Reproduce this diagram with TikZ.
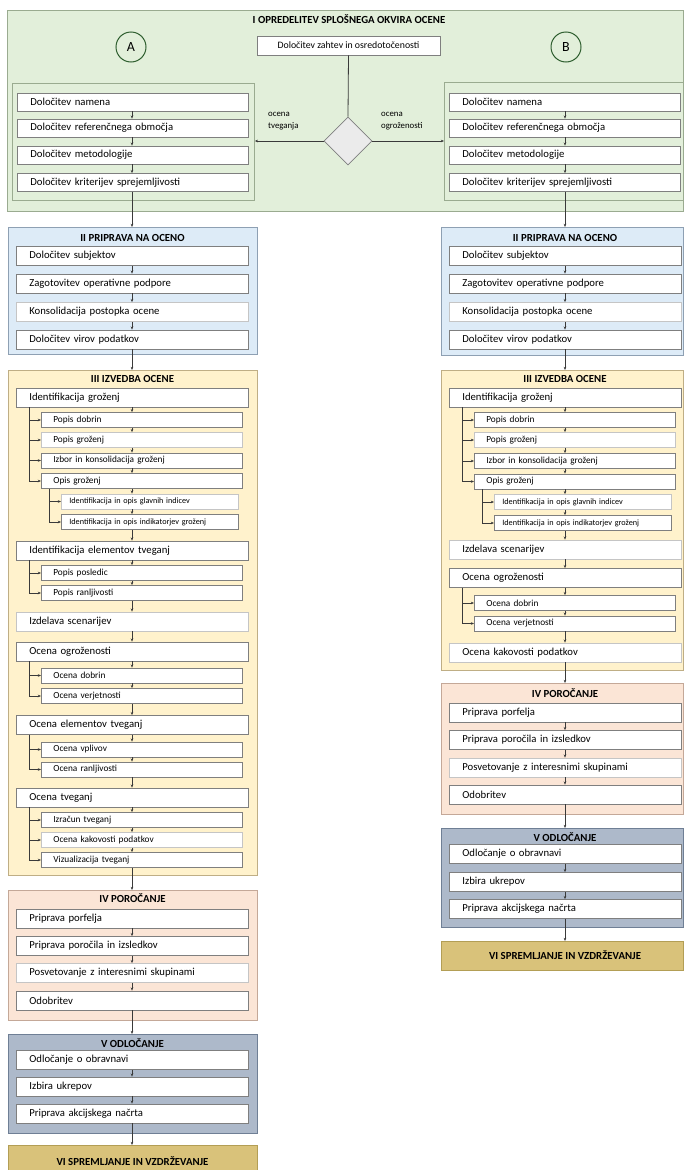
\documentclass[tikz,border=0pt]{standalone}
\usepackage{fontspec}
\setmainfont{Carlito}
\usetikzlibrary{shapes.geometric,arrows.meta,calc}

\definecolor{greenF}{HTML}{E2EFDA}
\definecolor{greenD}{HTML}{9AAB90}
\definecolor{circG}{HTML}{2E5E2E}
\definecolor{blueF}{HTML}{DDEBF7}
\definecolor{blueD}{HTML}{8EA0B3}
\definecolor{yelF}{HTML}{FFF2CC}
\definecolor{yelD}{HTML}{BFAE85}
\definecolor{orF}{HTML}{FBE5D6}
\definecolor{orD}{HTML}{C4A898}
\definecolor{slateF}{HTML}{ADB9CA}
\definecolor{slateD}{HTML}{6F7F95}
\definecolor{goldF}{HTML}{D9C27A}
\definecolor{goldD}{HTML}{B39E55}
\definecolor{boxline}{HTML}{7F7F7F}
\definecolor{lineC}{HTML}{3A3A3A}

\begin{document}
\begin{tikzpicture}[x=1pt,y=-1pt,
  mbox/.style={draw=boxline, fill=white, line width=0.7pt, anchor=west,
    minimum height=19pt, inner ysep=0pt, inner xsep=13pt, text width=206pt,
    align=left, font=\fontsize{10.7}{12}\selectfont},
  tgbox/.style={mbox, minimum height=18pt, text width=205pt},
  sbox/.style={mbox, minimum height=15pt, inner xsep=12pt, text width=177pt,
    font=\fontsize{9.3}{10}\selectfont},
  ssbox/.style={mbox, minimum height=15pt, inner xsep=8pt, text width=161pt,
    font=\fontsize{8.2}{9}\selectfont},
  faint/.style={draw=boxline!45},
  secbox/.style={anchor=north west, line width=0.8pt, inner sep=0pt},
  sectitle/.style={font=\bfseries\fontsize{10.8}{12}\selectfont, inner sep=0pt},
  flow/.style={draw=lineC, line width=0.6pt, -{Stealth[length=3.2pt,width=2.6pt]}},
  plain/.style={draw=lineC, line width=0.8pt},
  circ/.style={circle, draw=circG, line width=1pt, minimum size=30pt,
    inner sep=0pt, font=\fontsize{14}{16}\selectfont},
  note/.style={anchor=north west, align=left, inner sep=0pt,
    font=\fontsize{8.8}{12.5}\selectfont}
]
\useasboundingbox (0,0) rectangle (684,1170);

\coordinate (cL) at (132,0);
\coordinate (cR) at (565,0);

% ---------------- I: general framework ----------------
\node[secbox, fill=greenF, draw=greenD, minimum width=676pt, minimum height=201pt] (I) at (7,10) {};
\node[sectitle] (tI) at (349,19) {I OPREDELITEV SPLOŠNEGA OKVIRA OCENE};
\node[circ] (A) at (131,47) {A};
\node[circ] (B) at (566,47) {B};
\node[draw=boxline, fill=white, line width=0.7pt, minimum width=183pt, minimum height=19pt,
  inner sep=0pt, font=\fontsize{9.8}{11}\selectfont] (zahtev) at (348.5,45.5) {Določitev zahtev in osredotočenosti};
\node[diamond, draw=boxline, fill=gray!16, line width=0.7pt, minimum width=48pt,
  minimum height=48pt, inner sep=0pt] (dec) at (348,141) {};
\node[note] (nA) at (268,112) {ocena\\tveganja};
\node[note] (nB) at (381,112) {ocena\\ogroženosti};

\node[secbox, draw=greenD, minimum width=242pt, minimum height=117pt] (gA) at (12,83) {};
\node[secbox, draw=greenD, minimum width=239pt, minimum height=118pt] (gB) at (444,82) {};

\node[tgbox] (LaN) at (17,102) {Določitev namena};
\node[tgbox] (LaR) at (17,128) {Določitev referenčnega območja};
\node[tgbox] (LaM) at (17,155) {Določitev metodologije};
\node[tgbox] (LaK) at (17,182.5) {Določitev kriterijev sprejemljivosti};
\node[tgbox] (RaN) at (449,102) {Določitev namena};
\node[tgbox] (RaR) at (449,128) {Določitev referenčnega območja};
\node[tgbox] (RaM) at (449,155) {Določitev metodologije};
\node[tgbox] (RaK) at (449,182.5) {Določitev kriterijev sprejemljivosti};

% ---------------- section frames ----------------
\node[secbox, fill=blueF, draw=blueD, minimum width=249pt, minimum height=127pt] (IIL) at (8,227) {};
\node[secbox, fill=yelF, draw=yelD, minimum width=249pt, minimum height=505pt] (IIIL) at (8,370) {};
\node[secbox, fill=orF, draw=orD, minimum width=249pt, minimum height=130pt] (IVL) at (8,890) {};
\node[secbox, fill=slateF, draw=slateD, minimum width=249pt, minimum height=99pt] (VL) at (8,1034) {};
\node[secbox, fill=goldF, minimum width=249pt, minimum height=25pt] (VIL) at (8,1145) {};
\draw[goldD, line width=0.8pt] (VIL.south west) -- (VIL.north west) -- (VIL.north east) -- (VIL.south east);

\node[secbox, fill=blueF, draw=blueD, minimum width=242pt, minimum height=128pt] (IIR) at (441,227) {};
\node[secbox, fill=yelF, draw=yelD, minimum width=242pt, minimum height=300pt] (IIIR) at (441,370) {};
\node[secbox, fill=orF, draw=orD, minimum width=242pt, minimum height=131pt] (IVR) at (441,683) {};
\node[secbox, fill=slateF, draw=slateD, minimum width=242pt, minimum height=99pt] (VR) at (441,828) {};
\node[secbox, fill=goldF, draw=goldD, minimum width=242pt, minimum height=29pt] (VIR) at (441,941) {};

% ---------------- section titles ----------------
\node[sectitle] (tIIL) at (132.5,238) {II PRIPRAVA NA OCENO};
\node[sectitle] (tIIIL) at (132.5,379) {III IZVEDBA OCENE};
\node[sectitle] (tIVL) at (132.5,898) {IV POROČANJE};
\node[sectitle] (tVL) at (132.5,1043) {V ODLOČANJE};
\node[sectitle] (tVIL) at (132.5,1161) {VI SPREMLJANJE IN VZDRŽEVANJE};
\node[sectitle] (tIIR) at (565,238) {II PRIPRAVA NA OCENO};
\node[sectitle] (tIIIR) at (565,379) {III IZVEDBA OCENE};
\node[sectitle] (tIVR) at (565,693) {IV POROČANJE};
\node[sectitle] (tVR) at (565,837) {V ODLOČANJE};
\node[sectitle] (tVIR) at (565,955) {VI SPREMLJANJE IN VZDRŽEVANJE};

% ---------------- II (left) ----------------
\node[mbox] (Lb1) at (16,256) {Določitev subjektov};
\node[mbox] (Lb2) at (16,283.5) {Zagotovitev operativne podpore};
\node[mbox, faint] (Lb3) at (16,312) {Konsolidacija postopka ocene};
\node[mbox] (Lb4) at (16,339.5) {Določitev virov podatkov};
% ---------------- II (right) ----------------
\node[mbox] (Rb1) at (449,256) {Določitev subjektov};
\node[mbox] (Rb2) at (449,283.5) {Zagotovitev operativne podpore};
\node[mbox, faint] (Rb3) at (449,312) {Konsolidacija postopka ocene};
\node[mbox] (Rb4) at (449,339.5) {Določitev virov podatkov};

% ---------------- III (left) ----------------
\node[mbox] (Lg1) at (16,397.5) {Identifikacija groženj};
\node[sbox] (Lg1a) at (41,420) {Popis dobrin};
\node[sbox, faint] (Lg1b) at (41,440) {Popis groženj};
\node[sbox] (Lg1c) at (41,460.5) {Izbor in konsolidacija groženj};
\node[sbox] (Lg1d) at (41,481) {Opis groženj};
\node[ssbox, faint] (Lg1d1) at (61,501.5) {Identifikacija in opis glavnih indicev};
\node[ssbox] (Lg1d2) at (61,522) {Identifikacija in opis indikatorjev groženj};
\node[mbox] (Lg2) at (16,550.5) {Identifikacija elementov tveganj};
\node[sbox] (Lg2a) at (41,573) {Popis posledic};
\node[sbox] (Lg2b) at (41,593) {Popis ranljivosti};
\node[mbox, faint] (Lg3) at (16,621.5) {Izdelava scenarijev};
\node[mbox] (Lg4) at (16,651.5) {Ocena ogroženosti};
\node[sbox] (Lg4a) at (41,675.5) {Ocena dobrin};
\node[sbox] (Lg4b) at (41,696) {Ocena verjetnosti};
\node[mbox] (Lg5) at (16,725) {Ocena elementov tveganj};
\node[sbox] (Lg5a) at (41,749.5) {Ocena vplivov};
\node[sbox] (Lg5b) at (41,769.5) {Ocena ranljivosti};
\node[mbox] (Lg6) at (16,797.5) {Ocena tveganj};
\node[sbox] (Lg6a) at (41,820) {Izračun tveganj};
\node[sbox, faint] (Lg6b) at (41,840) {Ocena kakovosti podatkov};
\node[sbox] (Lg6c) at (41,860) {Vizualizacija tveganj};

% ---------------- III (right) ----------------
\node[mbox] (Rg1) at (449,397.5) {Identifikacija groženj};
\node[sbox] (Rg1a) at (474,420) {Popis dobrin};
\node[sbox, faint] (Rg1b) at (474,440) {Popis groženj};
\node[sbox] (Rg1c) at (474,461) {Izbor in konsolidacija groženj};
\node[sbox] (Rg1d) at (474,481.5) {Opis groženj};
\node[ssbox, faint] (Rg1d1) at (494,502) {Identifikacija in opis glavnih indicev};
\node[ssbox] (Rg1d2) at (494,523) {Identifikacija in opis indikatorjev groženj};
\node[mbox, faint] (Rg3) at (449,549.5) {Izdelava scenarijev};
\node[mbox] (Rg4) at (449,578) {Ocena ogroženosti};
\node[sbox] (Rg4a) at (474,603) {Ocena dobrin};
\node[sbox] (Rg4b) at (474,623.5) {Ocena verjetnosti};
\node[mbox, faint] (Rg7) at (449,652.5) {Ocena kakovosti podatkov};

% ---------------- IV ----------------
\node[mbox] (Ld1) at (16,918.5) {Priprava porfelja};
\node[mbox] (Ld2) at (16,946) {Priprava poročila in izsledkov};
\node[mbox, faint] (Ld3) at (16,973) {Posvetovanje z interesnimi skupinami};
\node[mbox] (Ld4) at (16,1000.5) {Odobritev};
\node[mbox] (Rd1) at (449,712.5) {Priprava porfelja};
\node[mbox] (Rd2) at (449,740) {Priprava poročila in izsledkov};
\node[mbox, faint] (Rd3) at (449,767.5) {Posvetovanje z interesnimi skupinami};
\node[mbox] (Rd4) at (449,794.5) {Odobritev};

% ---------------- V ----------------
\node[mbox] (Le1) at (16,1060) {Odločanje o obravnavi};
\node[mbox] (Le2) at (16,1086.5) {Izbira ukrepov};
\node[mbox] (Le3) at (16,1113.5) {Priprava akcijskega načrta};
\node[mbox] (Re1) at (449,854) {Odločanje o obravnavi};
\node[mbox] (Re2) at (449,882) {Izbira ukrepov};
\node[mbox] (Re3) at (449,909) {Priprava akcijskega načrta};

% ---------------- connectors: framework ----------------
\draw[plain] (zahtev.south) -- (dec.north);
\draw[flow] (dec.west) -- (dec.west -| gA.east);
\draw[flow] (dec.east) -- (dec.east -| gB.west);

% ---------------- connectors: main flow, left ----------------
\foreach \a/\b in {LaN/LaR, LaR/LaM, LaM/LaK, LaK/IIL,
    Lb1/Lb2, Lb2/Lb3, Lb3/Lb4, Lb4/IIIL,
    Lg1/Lg1a, Lg1a/Lg1b, Lg1b/Lg1c, Lg1c/Lg1d, Lg1d/Lg1d1, Lg1d1/Lg1d2, Lg1d2/Lg2,
    Lg2/Lg2a, Lg2a/Lg2b, Lg2b/Lg3, Lg3/Lg4, Lg4/Lg4a, Lg4a/Lg4b, Lg4b/Lg5,
    Lg5/Lg5a, Lg5a/Lg5b, Lg5b/Lg6, Lg6/Lg6a, Lg6a/Lg6b, Lg6b/Lg6c, Lg6c/IVL,
    Ld1/Ld2, Ld2/Ld3, Ld3/Ld4, Ld4/VL,
    Le1/Le2, Le2/Le3, Le3/VIL}
  \draw[flow] (\a.south -| cL) -- (\b.north -| cL);

% ---------------- connectors: main flow, right ----------------
\foreach \a/\b in {RaN/RaR, RaR/RaM, RaM/RaK, RaK/IIR,
    Rb1/Rb2, Rb2/Rb3, Rb3/Rb4, Rb4/IIIR,
    Rg1/Rg1a, Rg1a/Rg1b, Rg1b/Rg1c, Rg1c/Rg1d, Rg1d/Rg1d1, Rg1d1/Rg1d2, Rg1d2/Rg3,
    Rg3/Rg4, Rg4/Rg4a, Rg4a/Rg4b, Rg4b/Rg7, Rg7/IVR,
    Rd1/Rd2, Rd2/Rd3, Rd3/Rd4, Rd4/VR,
    Re1/Re2, Re2/Re3, Re3/VIR}
  \draw[flow] (\a.south -| cR) -- (\b.north -| cR);

% ---------------- connectors: sub-step branches ----------------
\foreach \p/\c in {Lg1/Lg1a, Lg1/Lg1b, Lg1/Lg1c, Lg1/Lg1d,
    Lg2/Lg2a, Lg2/Lg2b, Lg4/Lg4a, Lg4/Lg4b, Lg5/Lg5a, Lg5/Lg5b,
    Lg6/Lg6a, Lg6/Lg6b, Lg6/Lg6c,
    Rg1/Rg1a, Rg1/Rg1b, Rg1/Rg1c, Rg1/Rg1d, Rg4/Rg4a, Rg4/Rg4b}
  \draw[flow] ([xshift=13pt]\p.south west) |- (\c.west);
\foreach \p/\c in {Lg1d/Lg1d1, Lg1d/Lg1d2, Rg1d/Rg1d1, Rg1d/Rg1d2}
  \draw[flow] ([xshift=8pt]\p.south west) |- (\c.west);

\end{tikzpicture}
\end{document}
